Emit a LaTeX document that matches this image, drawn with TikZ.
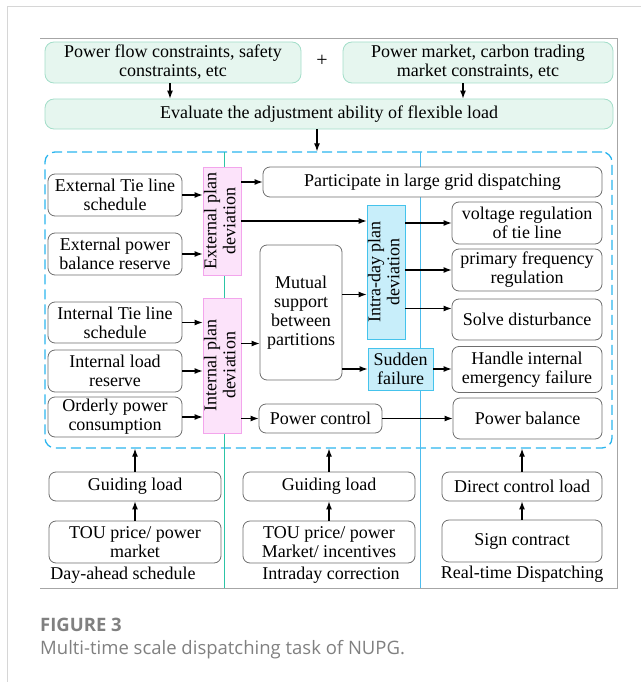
\documentclass[tikz,border=0pt]{standalone}
\usepackage{fontspec}
\setmainfont{Liberation Serif}
\newfontfamily\capfont{Open Sans}
\usepackage{tikz}
\usetikzlibrary{arrows.meta}
\definecolor{mint}{HTML}{E6F6EF}
\definecolor{mintline}{HTML}{A3DEC9}
\definecolor{pinkfill}{HTML}{FCE3FA}
\definecolor{pinkline}{HTML}{F3A5EC}
\definecolor{bluefill}{HTML}{C8EEFA}
\definecolor{blueline}{HTML}{45C3EC}
\definecolor{zonecol}{HTML}{2BB5EE}
\definecolor{tealline}{HTML}{2CC4A6}
\definecolor{sepblue}{HTML}{4DBDEE}
\definecolor{boxline}{HTML}{6E6E6E}
\definecolor{framegray}{HTML}{A6A6A6}
\definecolor{outergray}{HTML}{D6D6D6}
\definecolor{capgray}{HTML}{808080}

\begin{document}
\begin{tikzpicture}[x=1pt,y=-1pt,
	font=\fontsize{18}{19}\selectfont,
	>={Latex[length=8pt,width=6pt]},
	box/.style={draw=boxline, line width=0.8pt, fill=white, rounded corners=7pt, align=center, inner sep=0pt},
	greenbox/.style={draw=mintline, line width=0.8pt, fill=mint, rounded corners=9pt, align=center, inner sep=0pt},
	pinkbox/.style={draw=pinkline, line width=0.8pt, fill=pinkfill, inner sep=0pt},
	bluebox/.style={draw=blueline, line width=0.8pt, fill=bluefill, align=center, inner sep=0pt},
	arr/.style={->, line width=1.2pt}]
					\useasboundingbox (0,0) rectangle (641,682);
					\draw[outergray, line width=1pt] (7,682) -- (7,7) -- (641,7);
					\draw[framegray, line width=1pt] (40,39) -- (617,39) -- (617,588) -- (40,588);
					\draw (173,62.5) node[greenbox, minimum width=256, minimum height=41] (flow) {Power flow constraints, safety\\constraints, etc};
					\draw (322,61) node[font=\fontsize{20}{20}\selectfont] (plus) {+};
					\draw (478,62.5) node[greenbox, minimum width=270, minimum height=41] (market) {Power market, carbon trading\\market constraints, etc};
					\draw (329,114) node[greenbox, minimum width=568, minimum height=30] (eval) {Evaluate the adjustment ability of flexible load};
					\draw (328.5,300) node[draw=zonecol, line width=1.3pt, dash pattern=on 10pt off 5pt, rounded corners=10pt, minimum width=567, minimum height=296, inner sep=0pt] (zone) {};
					\draw[tealline, line width=1pt] (224,152) -- (224,588);
					\draw[sepblue, line width=1pt] (420,152) -- (420,588);
					\draw (115,195) node[box, minimum width=134, minimum height=42] (exttie) {External Tie line\\schedule};
					\draw (115,254) node[box, minimum width=134, minimum height=42] (extres) {External power\\balance reserve};
					\draw (115,322.5) node[box, minimum width=134, minimum height=41] (inttie) {Internal Tie line\\schedule};
					\draw (115,371) node[box, minimum width=134, minimum height=42] (intres) {Internal load\\reserve};
					\draw (115,417) node[box, minimum width=134, minimum height=40] (orderly) {Orderly power\\consumption};
					\draw (222,221) node[pinkbox, minimum width=38, minimum height=108] (extdev) {\rotatebox{90}{\begin{tabular}{@{}c@{}}External plan\\deviation\end{tabular}}};
					\draw (222,365.5) node[pinkbox, minimum width=38, minimum height=135] (intdev) {\rotatebox{90}{\begin{tabular}{@{}c@{}}Internal plan\\deviation\end{tabular}}};
					\draw (432.5,182) node[box, minimum width=339, minimum height=30] (part) {Participate in large grid dispatching};
					\draw (301,312.5) node[box, minimum width=82, minimum height=135] (mutual) {Mutual\\support\\between\\partitions};
					\draw (320.5,418.5) node[box, minimum width=123, minimum height=29] (pctrl) {Power control};
					\draw (386,272) node[bluebox, minimum width=36, minimum height=134] (intra) {\rotatebox{90}{\begin{tabular}{@{}c@{}}Intra-day plan\\deviation\end{tabular}}};
					\draw (400.5,369) node[bluebox, minimum width=65, minimum height=42] (sudden) {Sudden\\failure};
					\draw (527,223) node[box, minimum width=150, minimum height=42] (volt) {voltage regulation\\of tie line};
					\draw (527,270) node[box, minimum width=150, minimum height=42] (freq) {primary frequency\\regulation};
					\draw (527,319.5) node[box, minimum width=150, minimum height=41] (solve) {Solve disturbance};
					\draw (527,369.5) node[box, minimum width=150, minimum height=46] (handle) {Handle internal\\emergency failure};
					\draw (527.5,418.5) node[box, minimum width=149, minimum height=41] (balance) {Power balance};
					\draw (135,486.5) node[box, minimum width=172, minimum height=29] (guide1) {Guiding load};
					\draw (135,542) node[box, minimum width=172, minimum height=42] (tou1) {TOU price/ power\\market};
					\draw (329,486.5) node[box, minimum width=172, minimum height=29] (guide2) {Guiding load};
					\draw (329,542) node[box, minimum width=172, minimum height=42] (tou2) {TOU price/ power\\Market/ incentives};
					\draw (522,486.5) node[box, minimum width=160, minimum height=29] (direct) {Direct control load};
					\draw (522,541) node[box, minimum width=160, minimum height=42] (sign) {Sign contract};
					\draw (123,579) node[anchor=base] (dayahead) {Day-ahead schedule};
					\draw (331,579) node[anchor=base] (intraday) {Intraday correction};
					\draw (522,578) node[anchor=base] (realtime) {Real-time Dispatching};
					\draw (40,631) node[anchor=base west, inner sep=0pt, text=capgray, font=\capfont\bfseries\fontsize{18.5}{20}\selectfont] (fig) {FIGURE 3};
					\draw (40,654) node[anchor=base west, inner sep=0pt, text=capgray, font=\capfont\fontsize{18.5}{20}\selectfont] (cap) {Multi-time scale dispatching task of NUPG.};
					\coordinate (p1) at ([xshift=-3pt]flow.south);
					\coordinate (m1) at ([xshift=-15pt]market.south);
					\coordinate (e1) at ([xshift=-12pt]eval.south);
					\coordinate (d1) at ([yshift=22pt]intdev.east);
					\coordinate (m2) at ([yshift=18pt]mutual.east);
					\coordinate (s1) at ([yshift=11pt]solve.west);
					\draw[arr] (p1) -- (p1 |- eval.north);
					\draw[arr] (m1) -- (m1 |- eval.north);
					\draw[arr] (e1) -- (e1 |- zone.north);
					\draw[arr] (exttie) -- (exttie -| extdev.west);
					\draw[arr] (extres) -- (extres -| extdev.west);
					\draw[arr] (inttie) -- (inttie -| intdev.west);
					\draw[arr] (intres) -- (intres -| intdev.west);
					\draw[arr] (orderly) -- (orderly -| intdev.west);
					\draw[arr] (part -| extdev.east) -- (part.west);
					\draw[arr] (extdev) -- (extdev -| intra.west);
					\draw[arr] (d1) -- (d1 -| mutual.west);
					\draw[arr] (pctrl -| intdev.east) -- (pctrl.west);
					\draw[arr] (m2) -- (m2 -| intra.west);
					\draw[arr] (sudden -| mutual.east) -- (sudden.west);
					\draw[arr] (volt -| intra.east) -- (volt.west);
					\draw[arr] (freq -| intra.east) -- (freq.west);
					\draw[arr] (s1 -| intra.east) -- (s1);
					\draw[arr] (sudden) -- (sudden -| handle.west);
					\draw[arr] (pctrl) -- (pctrl -| balance.west);
					\draw[arr] (tou1) -- (guide1);
					\draw[arr] (tou2) -- (guide2);
					\draw[arr] (sign) -- (direct);
					\draw[arr] (guide1) -- (guide1 |- zone.south);
					\draw[arr] (guide2) -- (guide2 |- zone.south);
					\draw[arr] (direct) -- (direct |- zone.south);
				\end{tikzpicture}
\end{document}
